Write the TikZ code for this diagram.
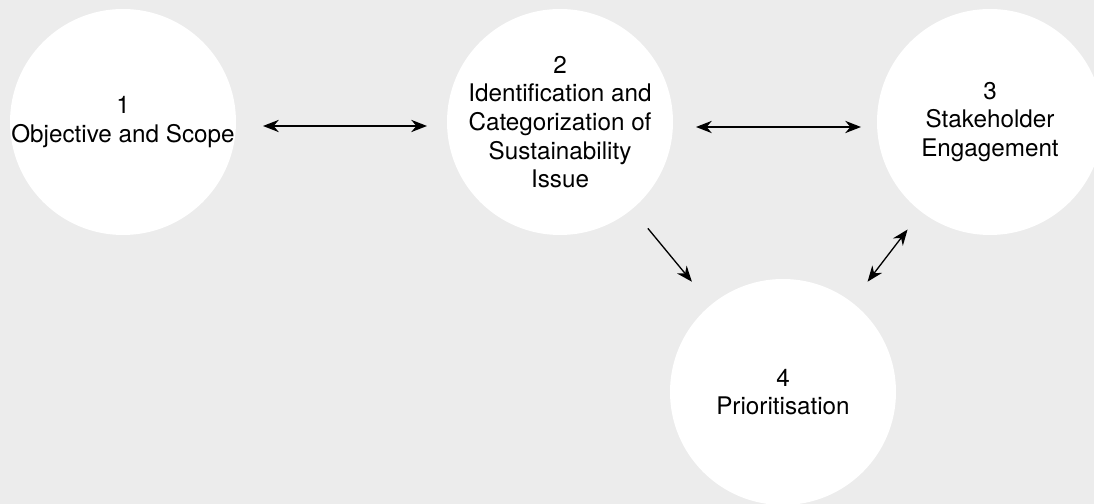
\documentclass[tikz,border=0pt]{standalone}
\usepackage{fontspec}
\setmainfont{TeX Gyre Heros}
\usetikzlibrary{arrows.meta}
\definecolor{bggray}{RGB}{236,236,236}
\begin{document}
\begin{tikzpicture}[>={Stealth[length=9pt,width=7pt]}, font=\fontsize{13.8}{16.3}\selectfont,
		stage/.style={circle, fill=white, minimum size=4.52cm, inner sep=0pt, outer sep=0pt},
		link/.style={<->, line width=0.75pt}]
		% background
		\clip (0,0) rectangle (21.88,10.08);
		\fill[bggray] (0,0) rectangle (21.88,10.08);
		% stages
		\node[stage] (c1) at (2.46,7.64) {};
		\node[stage] (c2) at (11.2,7.64) {};
		\node[stage] (c3) at (19.8,7.64) {};
		\node[stage] (c4) at (15.66,2.24) {};
		\node[align=center] (t1) at (c1) {1\\Objective and Scope};
		\node[align=center] (t2) at (c2) {2\\Identification and\\Categorization of\\Sustainability\\Issue};
		\node[align=center] (t3) at (c3) {3\\Stakeholder\\Engagement};
		\node[align=center] (t4) at (c4) {4\\Prioritisation};
		% links
		\draw[link, shorten <=0.54cm, shorten >=0.4cm] ([yshift=-0.08cm]c1.east) -- ([yshift=-0.08cm]c2.west);
		\draw[link, shorten <=0.46cm, shorten >=0.32cm] ([yshift=-0.1cm]c2.east) -- ([yshift=-0.1cm]c3.west);
		\draw[link, ->, shorten <=0.5cm, shorten >=0.6cm] (c2) -- (c4);
		\draw[link, shorten <=0.52cm, shorten >=0.45cm] (c4) -- (c3);
	\end{tikzpicture}
\end{document}
